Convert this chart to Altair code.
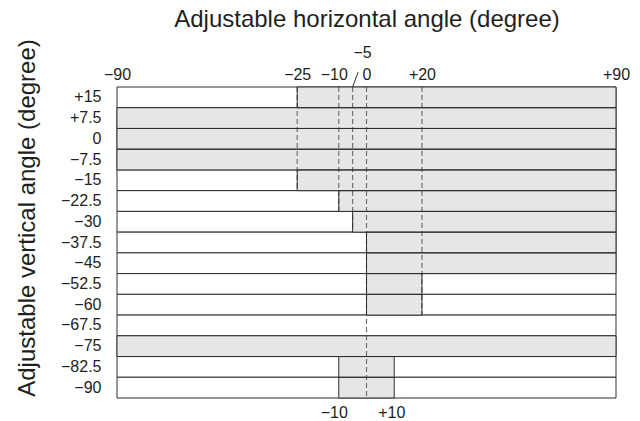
import altair as alt
import pandas as pd

# ---- data ----
row_labels = ["+15", "+7.5", "0", "\u22127.5", "\u221215", "\u221222.5", "\u221230",
              "\u221237.5", "\u221245", "\u221252.5", "\u221260", "\u221267.5",
              "\u221275", "\u221282.5", "\u221290"]
range_start = [-25, -90, -90, -90, -25, -10, -5, 0, 0, 0, 0, None, -90, -10, -10]
range_end = [90, 90, 90, 90, 90, 90, 90, 90, 90, 20, 20, None, 90, 10, 10]
top_ticks = [-90, -25, -10, 0, 20, 90]
bottom_ticks = [-10, 10]
guide_x = [-25, -10, -5, 0, 20]
guide_last_row = [5, 6, 7, 15, 11]   # dashed guide runs from top down to this row boundary
callout_value = -5
callout_label = "\u22125"

n = len(row_labels)
rows_df = pd.DataFrame({"i": list(range(n)), "label": row_labels})
rows_df["y"] = rows_df["i"]
rows_df["y2"] = rows_df["i"] + 1
rows_df["x"] = -90
rows_df["x2"] = 90

gray_df = pd.DataFrame({"i": list(range(n)), "s": range_start, "e": range_end}).dropna()
gray_df["y"] = gray_df["i"]
gray_df["y2"] = gray_df["i"] + 1

guide_df = pd.DataFrame({"x": guide_x, "y": 0, "y2": guide_last_row})
bottom_df = pd.DataFrame({"x": bottom_ticks})
callout_df = pd.DataFrame({"x": [callout_value], "label": [callout_label]})

FONT = "Liberation Sans"
INK = "#231f20"
LINE = "#2e2e2e"
LABEL_SIZE = 16
TITLE_SIZE = 24

xs = alt.Scale(domain=[-90, 90], nice=False, zero=False)
ys = alt.Scale(domain=[0, n], nice=False, zero=False, reverse=True)

def fmt_expr(vals):
    parts = []
    for v in vals:
        s = "0" if v == 0 else ("+" + str(v) if v > 0 else "\u2212" + str(abs(v)))
        parts.append(f"datum.value == {v} ? '{s}'")
    return " : ".join(parts) + " : ''"

top_axis = alt.Axis(
    orient="top", values=top_ticks, labelExpr=fmt_expr(top_ticks),
    labelFont=FONT, labelFontSize=LABEL_SIZE, labelColor=INK,
    labelBaseline="alphabetic", labelPadding=8, labelFlush=False, labelOverlap=False,
    labelOffset={"condition": {"test": "datum.value == -10", "value": -5}, "value": 0},
    title="Adjustable horizontal angle (degree)", titleFont=FONT, titleColor=INK,
    titleFontSize=TITLE_SIZE, titleFontWeight="normal",
    titleX=249.5, titleY=-61, titleBaseline="alphabetic", titleAlign="center",
)
bottom_axis = alt.Axis(
    orient="bottom", values=bottom_ticks, labelExpr=fmt_expr(bottom_ticks),
    labelFont=FONT, labelFontSize=LABEL_SIZE, labelColor=INK,
    labelBaseline="alphabetic", labelPadding=19, labelFlush=False, labelOverlap=False,
    labelOffset={"condition": {"test": "datum.value == -10", "value": -5}, "value": -3},
    title=None,
)
y_axis = alt.Axis(
    orient="left",
    labelFont=FONT, labelFontSize=LABEL_SIZE, labelColor=INK,
    labelAlign="right", labelBaseline="middle", labelPadding=16, labelOverlap=False,
    title="Adjustable vertical angle (degree)", titleFont=FONT, titleColor=INK,
    titleFontSize=TITLE_SIZE, titleFontWeight="normal",
    titleAngle=270, titleX=-83, titleY=130.5, titleBaseline="alphabetic", titleAlign="center",
)

boxes = alt.Chart(rows_df).mark_rect(fill="white", stroke=LINE, strokeWidth=1).encode(
    x=alt.X("x:Q", scale=xs, axis=top_axis), x2="x2",
    y=alt.Y("y:Q", scale=ys, axis=None), y2="y2",
)
fills = alt.Chart(gray_df).mark_rect(fill="#e6e6e6", strokeWidth=0).encode(
    x=alt.X("s:Q", scale=xs, axis=None), x2="e",
    y=alt.Y("y:Q", scale=ys, axis=None), y2="y2",
)
guides = alt.Chart(guide_df).mark_rule(color="#707070", strokeWidth=1.2, strokeDash=[5, 3]).encode(
    x=alt.X("x:Q", scale=xs, axis=None),
    y=alt.Y("y:Q", scale=ys, axis=None), y2="y2",
)
outlines = alt.Chart(gray_df).mark_rect(fillOpacity=0, stroke=LINE, strokeWidth=1).encode(
    x=alt.X("s:Q", scale=xs, axis=None), x2="e",
    y=alt.Y("y:Q", scale=ys, axis=None), y2="y2",
)
bottom = alt.Chart(bottom_df).mark_point(opacity=0).encode(
    x=alt.X("x:Q", scale=xs, axis=bottom_axis),
    y=alt.value(0),
)
callout_line = alt.Chart(callout_df).transform_calculate(
    xe="datum.x + 2", y0="0", y1="-0.72"
).mark_rule(color=LINE, strokeWidth=1).encode(
    x=alt.X("x:Q", scale=xs, axis=None), x2="xe:Q",
    y=alt.Y("y0:Q", scale=ys, axis=None), y2="y1:Q",
)
callout_text = alt.Chart(callout_df).transform_calculate(
    xt="datum.x + 3.6", yt="-1.4"
).mark_text(
    font=FONT, fontSize=LABEL_SIZE, color=INK, align="center", baseline="alphabetic"
).encode(
    x=alt.X("xt:Q", scale=xs, axis=None),
    y=alt.Y("yt:Q", scale=ys, axis=None),
    text="label:N",
)
# row labels on their own band scale (one band per row)
ylabels = alt.Chart(rows_df).mark_rect(opacity=0).encode(
    y=alt.Y("label:N", sort=row_labels,
            scale=alt.Scale(paddingInner=0, paddingOuter=0), axis=y_axis),
    x=alt.value(0), x2=alt.value(1),
)

chart = alt.layer(
    boxes, fills, guides, outlines, bottom, callout_line, callout_text, ylabels
).resolve_axis(x="independent", y="independent").resolve_scale(y="independent").properties(
    width=499, height=311,
    autosize=alt.AutoSizeParams(type="none"),
    padding={"left": 109, "top": 79, "right": 16, "bottom": 30},
).configure_view(strokeWidth=0).configure_axis(
    grid=False, domain=False, ticks=False, tickSize=0,
)

chart.save("out.html", embed_options={"renderer": "svg", "actions": False})
